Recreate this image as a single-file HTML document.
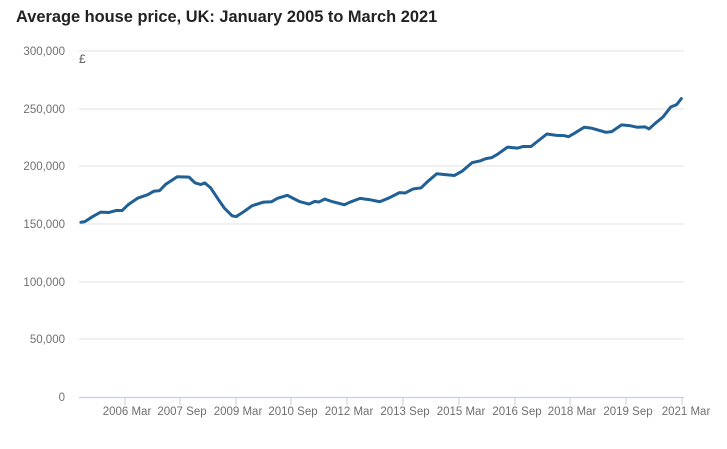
<!DOCTYPE html>
<html><head><meta charset="utf-8"><style>
body{margin:0;background:#fff;width:727px;height:444px;overflow:hidden;font-family:"Liberation Sans",sans-serif}
</style></head><body>
<svg width="727" height="444" viewBox="0 0 727 444" xmlns="http://www.w3.org/2000/svg" font-family="Liberation Sans, sans-serif">
<text x="16" y="22" font-size="16.4" font-weight="bold" fill="#222">Average house price, UK: January 2005 to March 2021</text>
<g stroke="#e0e0e0" stroke-width="1">
<line x1="79" x2="684" y1="51" y2="51"/><line x1="79" x2="684" y1="109" y2="109"/>
<line x1="79" x2="684" y1="166" y2="166"/><line x1="79" x2="684" y1="224" y2="224"/>
<line x1="79" x2="684" y1="282" y2="282"/><line x1="79" x2="684" y1="339" y2="339"/>
</g>
<line x1="79" x2="684" y1="397.5" y2="397.5" stroke="#c5d0e3" stroke-width="1.2"/>
<g stroke="#c5d0e3" stroke-width="1">
<line x1="125" x2="125" y1="397" y2="405"/><line x1="180" x2="180" y1="397" y2="405"/>
<line x1="236" x2="236" y1="397" y2="405"/><line x1="291" x2="291" y1="397" y2="405"/>
<line x1="347" x2="347" y1="397" y2="405"/><line x1="403" x2="403" y1="397" y2="405"/>
<line x1="459" x2="459" y1="397" y2="405"/><line x1="515" x2="515" y1="397" y2="405"/>
<line x1="570" x2="570" y1="397" y2="405"/><line x1="626" x2="626" y1="397" y2="405"/>
<line x1="682" x2="682" y1="397" y2="405"/>
</g>
<g font-size="11.5" fill="#707070" text-anchor="end">
<text x="65" y="55">300,000</text><text x="65" y="113">250,000</text>
<text x="65" y="170">200,000</text><text x="65" y="228">150,000</text>
<text x="65" y="286">100,000</text><text x="65" y="343">50,000</text>
<text x="65" y="401">0</text>
</g>
<text x="79" y="63" font-size="12" fill="#555">£</text>
<g font-size="11.5" fill="#707070" text-anchor="middle">
<text x="127" y="415">2006 Mar</text><text x="182" y="415">2007 Sep</text>
<text x="238" y="415">2009 Mar</text><text x="293" y="415">2010 Sep</text>
<text x="349" y="415">2012 Mar</text><text x="405" y="415">2013 Sep</text>
<text x="461" y="415">2015 Mar</text><text x="517" y="415">2016 Sep</text>
<text x="572" y="415">2018 Mar</text><text x="628" y="415">2019 Sep</text>
<text x="686" y="415">2021 Mar</text>
</g>
<g transform="translate(75,88.5) scale(0.3932,0.337)">
<polyline fill="none" stroke="#206095" stroke-width="3" vector-effect="non-scaling-stroke" stroke-linejoin="round" stroke-linecap="round"
points="15,397 25,395 45,380 65,367 85,368 105,362 120,362 135,345 160,325 185,315 200,305 215,303 230,285 260,262 290,263 305,280 320,285 330,280 345,295 365,330 380,355 400,378 410,380 430,365 450,348 480,337 500,336 515,326 540,317 555,326 570,335 595,343 610,335 620,337 635,328 655,336 685,345 700,337 725,326 750,330 775,336 800,324 825,309 840,310 860,298 880,295 895,278 920,253 945,256 965,258 985,245 1010,220 1030,215 1045,208 1060,205 1075,195 1100,174 1125,177 1140,172 1160,172 1175,158 1200,135 1225,139 1245,140 1255,143 1270,133 1295,115 1315,118 1350,130 1365,128 1390,108 1410,110 1430,115 1450,114 1460,120 1475,104 1495,85 1515,55 1530,48 1542,30"/>
</g>
</svg>
</body></html>
